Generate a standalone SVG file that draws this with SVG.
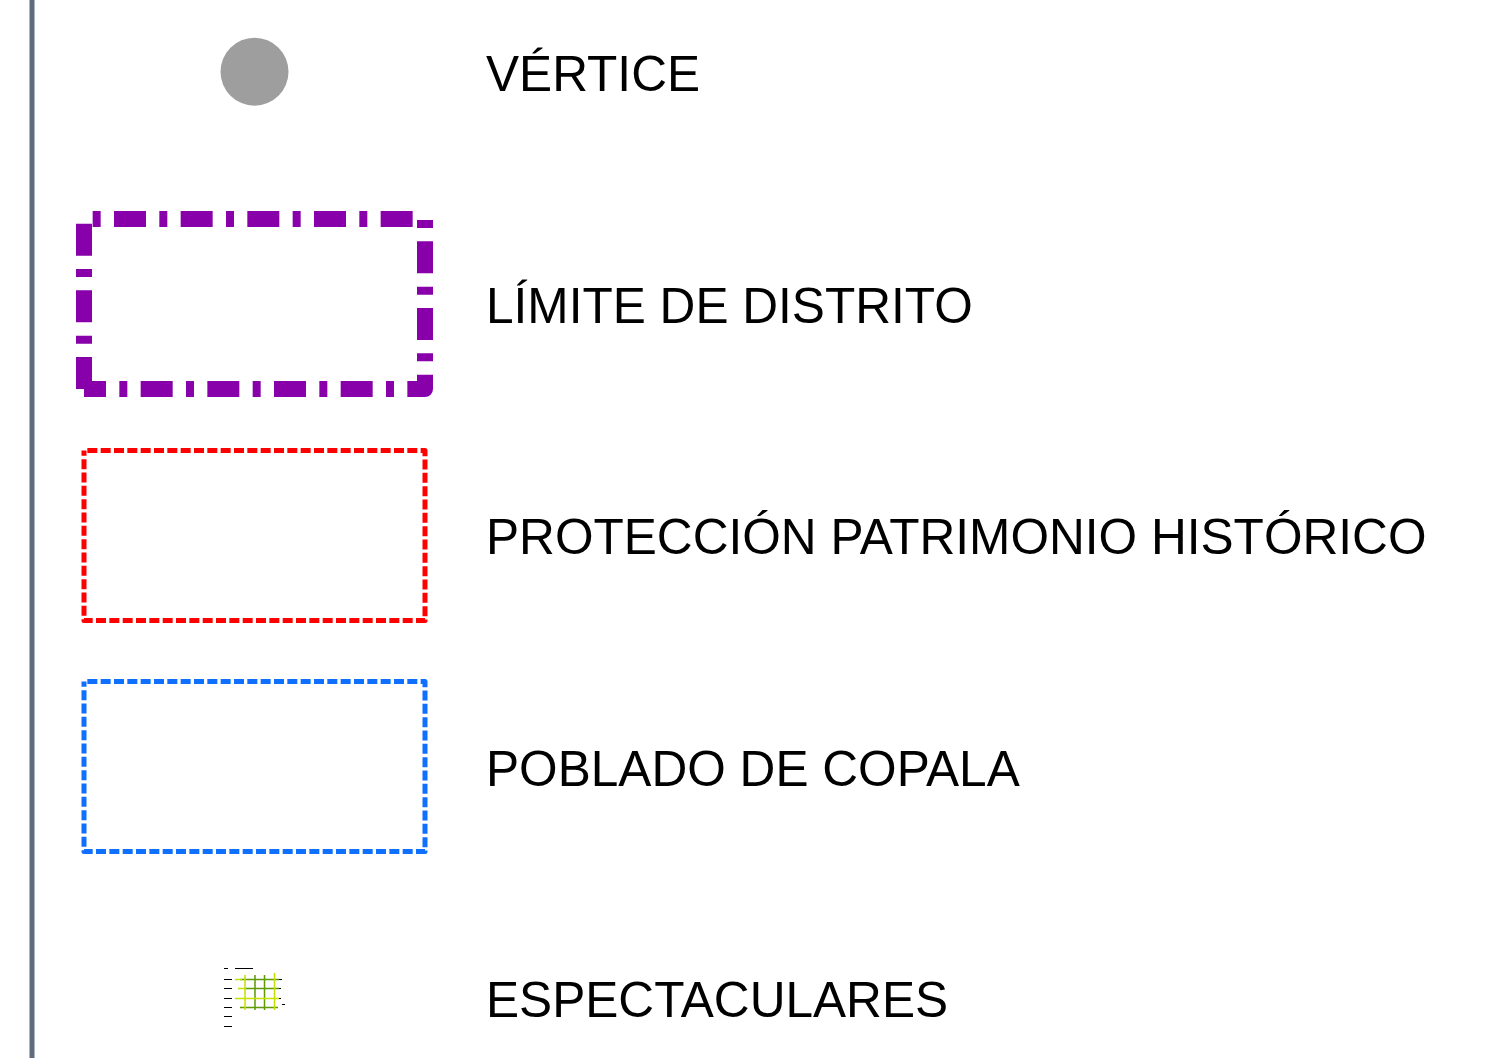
<svg xmlns="http://www.w3.org/2000/svg" width="1499" height="1058" viewBox="0 0 1499 1058">
  <style>
    .lbl { font-family: "Liberation Sans", Arial, sans-serif; font-size: 49.6px; fill: #000000; }
    .dash-box { fill: none; stroke-linejoin: round; stroke-linecap: butt; }
    .purple { stroke: #8700AA; stroke-width: 16; stroke-dasharray: 32 13.333 8 13.333; }
    .red { stroke: #FF0000; stroke-width: 5; stroke-dasharray: 10 3.333; stroke-dashoffset: 10; }
    .blue { stroke: #0F6FFF; stroke-width: 5; stroke-dasharray: 10 3.333; stroke-dashoffset: 10; }
    .ink { stroke: #000000; stroke-width: 1; fill: none; }
    .g1 { stroke: #C6E000; stroke-width: 1.5; fill: none; }
    .g2 { stroke: #5E9A00; stroke-width: 1.5; fill: none; }
  </style>
  <rect x="0" y="0" width="1499" height="1058" fill="#FFFFFF"/>
  <line x1="32" y1="0" x2="32" y2="1058" stroke="#5E6D79" stroke-width="5"/>

  <g id="vertice">
    <circle cx="254.5" cy="71.7" r="34" fill="#9E9E9E"/>
    <text class="lbl" x="486" y="91">VÉRTICE</text>
  </g>

  <g id="limite-distrito">
    <path class="dash-box purple" d="M84,389 V219 H425 V389 H84"/>
    <text class="lbl" x="486" y="322.5">LÍMITE DE DISTRITO</text>
  </g>

  <g id="proteccion-patrimonio">
    <path class="dash-box red" d="M84,450.5 H425 V620.5 H84 Z"/>
    <text class="lbl" x="486" y="554">PROTECCIÓN PATRIMONIO HISTÓRICO</text>
  </g>

  <g id="poblado-copala">
    <path class="dash-box blue" d="M84,681.5 H425 V851.5 H84 Z"/>
    <text class="lbl" x="486" y="785.5">POBLADO DE COPALA</text>
  </g>

  <g id="espectaculares">
    <g class="ink">
      <path d="M224,968.5 H228 M235,968.5 H253"/>
      <path d="M224,979.5 H232 M224,988.5 H232 M224,998.5 H232 M224,1007.5 H232 M224,1016.5 H232 M224,1026.5 H232"/>
      <path d="M276,979.5 H282 M276,988.5 H281 M276,998.5 H281 M257,1007.5 H275 M282,1004.5 H285"/>
    </g>
    <g class="g2">
      <path d="M240,979.5 H279 M245,988.5 H279 M240,1007.5 H278"/>
      <path d="M255,975 V1010 M264.5,975 V1010"/>
    </g>
    <g class="g1">
      <path d="M235,979.5 H242 M238,988.5 H246 M235,998.5 H279"/>
      <path d="M245,975 V1010 M274.5,973 V1010"/>
    </g>
    <text class="lbl" x="486" y="1017">ESPECTACULARES</text>
  </g>
</svg>
